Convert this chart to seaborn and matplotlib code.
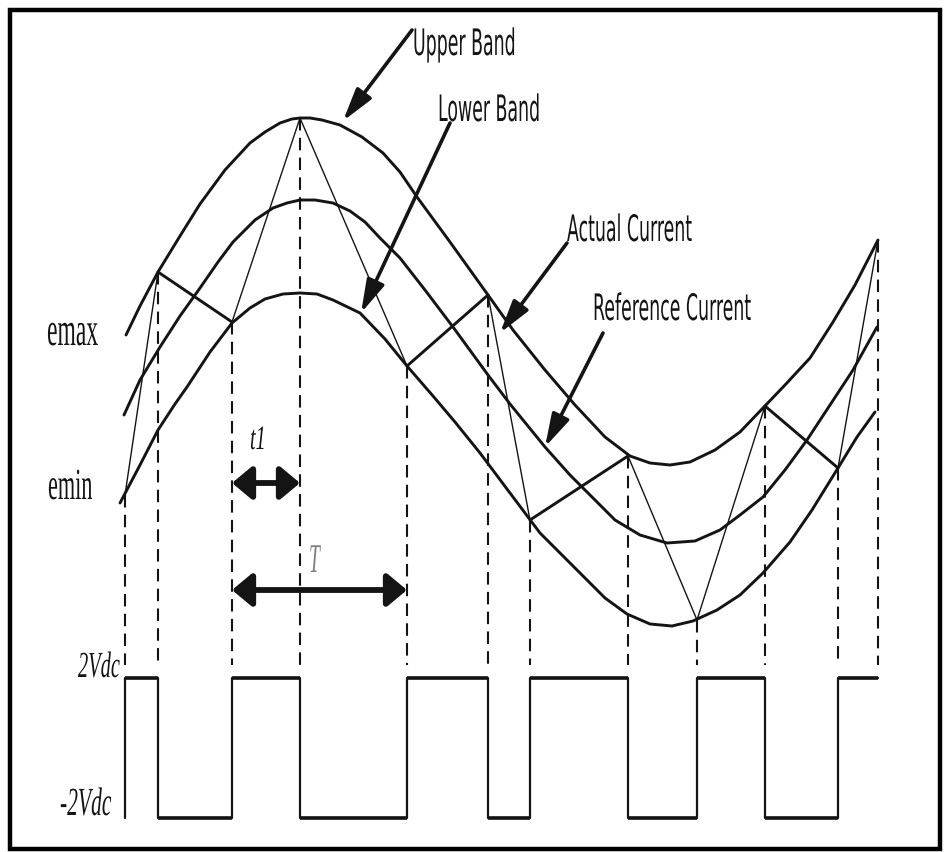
import numpy as np
import pandas as pd
import matplotlib
matplotlib.use("Agg")
import matplotlib.pyplot as plt
import seaborn as sns
from matplotlib import font_manager
from matplotlib.patheffects import AbstractPathEffect
from matplotlib.transforms import Affine2D
from matplotlib.patches import Rectangle

# ---------------- data (time ~ px, level ~ px, y down) ----
upper_x = [126, 140, 158, 180, 200, 225, 250, 265, 280, 292, 300, 310, 322, 340,
           362, 383, 400, 417, 450, 488, 513, 545, 575, 605, 630, 650, 670, 690,
           715, 740, 763, 785, 810, 833, 855, 878]
upper_y = [335, 306, 272, 236, 204, 170, 143, 132, 123, 119, 118, 118, 120, 125,
           137, 153, 172, 197, 242, 295, 330, 370, 405, 437, 456, 463, 465, 462,
           450, 432, 408, 385, 358, 322, 285, 240]

ref_x = [124, 140, 160, 180, 200, 218, 233, 255, 273, 287, 300, 315, 333, 350,
         365, 380, 400, 425, 453, 488, 510, 545, 570, 590, 615, 640, 667, 695,
         720, 740, 763, 785, 807, 830, 853, 877]
ref_y = [415, 380, 347, 316, 288, 262, 242, 220, 208, 203, 200, 200, 203, 211,
         222, 238, 258, 290, 327, 375, 404, 447, 475, 495, 520, 535, 543, 541,
         530, 515, 497, 470, 440, 405, 370, 327]

lower_x = [120, 140, 158, 175, 187, 210, 232, 250, 265, 283, 300, 317, 333, 360,
           385, 407, 433, 455, 480, 510, 540, 580, 605, 627, 650, 672, 693, 717,
           740, 763, 790, 812, 838, 857, 875]
lower_y = [503, 465, 430, 404, 387, 352, 323, 308, 299, 294, 293, 294, 300, 313,
           339, 366, 396, 422, 453, 493, 533, 573, 598, 614, 624, 626, 621, 610,
           595, 573, 542, 510, 468, 437, 412]

# switching instants of the actual current (band hits)
switch_x = [125, 158, 232, 300, 407, 488, 530, 628, 697, 765, 838, 878]
switch_y = [495, 272, 322, 118, 366, 295, 520, 456, 620, 406, 468, 240]
seg_bold = [False, True, False, False, True, False, True, False, False, True, False]

pulse_high = 678     # 2Vdc level
pulse_low = 818      # -2Vdc level
dash_end = 665

band_labels = ["Upper Band", "Lower Band", "Actual Current", "Reference Current"]
level_labels = ["emax", "emin", "2Vdc", "-2Vdc"]
interval_labels = ["t1", "T"]

# ---------------- style ----------------
sns.set_theme(style="white")
ink = "#141414"

names = {f.name for f in font_manager.fontManager.ttflist}
if "Liberation Sans Narrow" in names:
    sans = "Liberation Sans Narrow"; sans_fs = 16.5; sans_sy = 1.7
else:
    sans = "DejaVu Sans"; sans_fs = 12.5; sans_sy = 2.1
serif = "Liberation Serif" if "Liberation Serif" in names else "DejaVu Serif"


class StretchY(AbstractPathEffect):
    """Draw the glyphs stretched vertically about the baseline."""
    def __init__(self, sy):
        super().__init__()
        self._sy = sy

    def draw_path(self, renderer, gc, tpath, affine, rgbFace=None):
        renderer.draw_path(gc, tpath, Affine2D().scale(1.0, self._sy) + affine, rgbFace)


fig = plt.figure(figsize=(9.45, 8.52), dpi=100)
fig.patch.set_facecolor("white")
ax = fig.add_axes([0, 0, 1, 1])

# band curves and reference
for xs, ys in [(upper_x, upper_y), (ref_x, ref_y), (lower_x, lower_y)]:
    df = pd.DataFrame({"t": xs, "i": ys})
    sns.lineplot(data=df, x="t", y="i", ax=ax, color=ink, lw=2.1,
                 estimator=None, sort=False, legend=False)

# actual current zigzag
for k in range(len(switch_x) - 1):
    ax.plot(switch_x[k:k + 2], switch_y[k:k + 2], color=ink,
            lw=2.1 if seg_bold[k] else 1.0, solid_capstyle="round")

# dashed projections
ax.vlines(switch_x, switch_y, dash_end, colors=ink, lw=1.5,
          linestyles=(0, (6, 3.5)))

# switching pulse
px = [switch_x[0]] + switch_x[:-1] + [switch_x[-1]]
states = [pulse_high if k % 2 == 0 else pulse_low for k in range(len(switch_x) - 1)]
py = [pulse_low] + states + [states[-1]]
ax.plot(px, py, drawstyle="steps-post", color=ink, lw=1.6)
for k in range(len(switch_x) - 1):
    ax.hlines(states[k], switch_x[k], switch_x[k + 1], colors=ink, lw=2.6)

# interval arrows
ax.annotate("", xy=(switch_x[2], 483), xytext=(switch_x[3], 483),
            arrowprops=dict(arrowstyle="<|-|>,head_length=0.6,head_width=0.5",
                            mutation_scale=20, lw=4.2, color=ink,
                            shrinkA=0, shrinkB=0))
ax.annotate("", xy=(switch_x[2], 590), xytext=(switch_x[4], 590),
            arrowprops=dict(arrowstyle="<|-|>,head_length=0.6,head_width=0.5",
                            mutation_scale=20, lw=4.2, color=ink,
                            shrinkA=0, shrinkB=0))

# pointer arrows for the band labels
pointers = [((412, 30), (343, 121)), ((450, 123), (361, 313)),
            ((567, 243), (500, 333)), ((603, 333), (545, 447))]
for (x0, y0), (x1, y1) in pointers:
    ax.annotate("", xy=(x1, y1), xytext=(x0, y0),
                arrowprops=dict(arrowstyle="-|>,head_length=1.0,head_width=0.28",
                                mutation_scale=20, lw=2.6, color=ink,
                                shrinkA=0, shrinkB=0))

sans_pos = [(413, 55), (438, 121), (567, 241), (593, 320)]
for s, (x, y) in zip(band_labels, sans_pos):
    ax.text(x, y, s, family=sans, fontsize=sans_fs, color=ink, ha="left",
            va="baseline", path_effects=[StretchY(sans_sy)])

level_pos = [(47, 345, 17, "normal", 2.0), (48, 499, 16, "normal", 2.0),
             (78, 677, 14.7, "italic", 1.8), (60, 815, 15.5, "italic", 1.85)]
for s, (x, y, fs, st, sy) in zip(level_labels, level_pos):
    ax.text(x, y, s, family=serif, fontsize=fs, style=st, color=ink, ha="left",
            va="baseline", path_effects=[StretchY(sy)])

ax.text(250, 449, interval_labels[0], family=serif, fontsize=14.5, style="italic",
        color=ink, ha="left", va="baseline", path_effects=[StretchY(1.7)])
ax.text(309, 572, interval_labels[1], family=serif, fontsize=14, style="italic",
        color="#808080", ha="left", va="baseline", path_effects=[StretchY(2.1)])

# frame
ax.add_patch(Rectangle((10, 10), 930, 839, fill=False, ec="black", lw=3.2))

ax.set_xlim(0, 945)
ax.set_ylim(852, 0)
ax.set_axis_off()

fig.savefig("out.png", dpi=100, facecolor="white")
